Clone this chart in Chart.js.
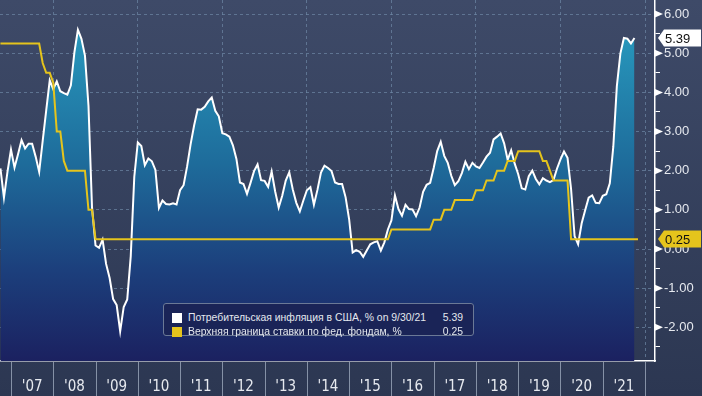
<!DOCTYPE html>
<html>
<head>
<meta charset="utf-8">
<script src="https://cdn.jsdelivr.net/npm/chart.js@4.4.0/dist/chart.umd.min.js"></script>
<style>
html,body{margin:0;padding:0;}
body{width:702px;height:396px;overflow:hidden;position:relative;background:linear-gradient(#3e4a68,#2c3752);font-family:"Liberation Sans",Arial,sans-serif;}
#chart{position:absolute;left:0;top:0;}
#legend{position:absolute;left:163px;top:303px;width:311px;height:33px;box-sizing:border-box;background:#1a2457;border:1px solid #6b7996;border-radius:3px;font-size:10.4px;color:#e4e8ee;}
.row{position:absolute;left:8px;right:10px;height:14px;line-height:14px;white-space:nowrap;}
.sw{position:absolute;left:0;top:2px;width:10px;height:10px;}
.lab{position:absolute;left:16px;top:0;}
.val{position:absolute;right:0;top:0;}
</style>
</head>
<body>
<canvas id="chart" width="702" height="396"></canvas>
<div id="legend"></div>
<script>
// monthly, month-end, first point = Sep 2006
const startYear = 2006;
const startMonth = 9;

// US CPI, % y/y
const cpi = [
  2.06, 1.31, 1.97, 2.54,
  2.08, 2.42, 2.78, 2.57, 2.69, 2.69, 2.36, 1.97, 2.76, 3.54, 4.31, 4.08,
  4.28, 4.03, 3.98, 3.94, 4.18, 5.02, 5.60, 5.37, 4.94, 3.66, 1.07, 0.09,
  0.03, 0.24, -0.38, -0.74, -1.28, -1.43, -2.10, -1.48, -1.29, -0.18, 1.84, 2.72,
  2.63, 2.14, 2.31, 2.24, 2.02, 1.05, 1.24, 1.15, 1.14, 1.17, 1.14, 1.50,
  1.63, 2.11, 2.68, 3.16, 3.57, 3.56, 3.63, 3.77, 3.87, 3.53, 3.39, 2.96,
  2.93, 2.87, 2.65, 2.30, 1.70, 1.66, 1.41, 1.69, 1.99, 2.16, 1.76, 1.74,
  1.59, 1.98, 1.47, 1.06, 1.36, 1.75, 1.96, 1.52, 1.18, 0.96, 1.24, 1.50,
  1.58, 1.13, 1.51, 1.95, 2.13, 2.07, 1.99, 1.70, 1.66, 1.66, 1.32, 0.76,
  -0.09, -0.03, -0.07, -0.20, -0.04, 0.12, 0.17, 0.20, -0.04, 0.17, 0.50, 0.73,
  1.37, 1.02, 0.85, 1.13, 1.02, 1.01, 0.84, 1.06, 1.46, 1.64, 1.69, 2.07,
  2.50, 2.74, 2.38, 2.20, 1.87, 1.63, 1.73, 1.94, 2.23, 2.04, 2.20, 2.11,
  2.07, 2.21, 2.36, 2.46, 2.80, 2.87, 2.95, 2.70, 2.28, 2.52, 2.18, 1.91,
  1.55, 1.52, 1.86, 2.00, 1.79, 1.65, 1.81, 1.75, 1.71, 1.76, 2.05, 2.29,
  2.49, 2.33, 1.54, 0.33, 0.12, 0.65, 0.99, 1.31, 1.37, 1.18, 1.17, 1.36,
  1.40, 1.68, 2.62, 4.16, 4.99, 5.39, 5.37, 5.25, 5.39
];

// Fed funds target, upper bound, %
const fed = [
  5.25, 5.25, 5.25, 5.25,
  5.25, 5.25, 5.25, 5.25, 5.25, 5.25, 5.25, 5.25, 4.75, 4.50, 4.50, 4.25,
  3.00, 3.00, 2.25, 2.00, 2.00, 2.00, 2.00, 2.00, 2.00, 1.00, 1.00, 0.25,
  0.25, 0.25, 0.25, 0.25, 0.25, 0.25, 0.25, 0.25, 0.25, 0.25, 0.25, 0.25,
  0.25, 0.25, 0.25, 0.25, 0.25, 0.25, 0.25, 0.25, 0.25, 0.25, 0.25, 0.25,
  0.25, 0.25, 0.25, 0.25, 0.25, 0.25, 0.25, 0.25, 0.25, 0.25, 0.25, 0.25,
  0.25, 0.25, 0.25, 0.25, 0.25, 0.25, 0.25, 0.25, 0.25, 0.25, 0.25, 0.25,
  0.25, 0.25, 0.25, 0.25, 0.25, 0.25, 0.25, 0.25, 0.25, 0.25, 0.25, 0.25,
  0.25, 0.25, 0.25, 0.25, 0.25, 0.25, 0.25, 0.25, 0.25, 0.25, 0.25, 0.25,
  0.25, 0.25, 0.25, 0.25, 0.25, 0.25, 0.25, 0.25, 0.25, 0.25, 0.25, 0.50,
  0.50, 0.50, 0.50, 0.50, 0.50, 0.50, 0.50, 0.50, 0.50, 0.50, 0.50, 0.75,
  0.75, 0.75, 1.00, 1.00, 1.00, 1.25, 1.25, 1.25, 1.25, 1.25, 1.25, 1.50,
  1.50, 1.50, 1.75, 1.75, 1.75, 2.00, 2.00, 2.00, 2.25, 2.25, 2.25, 2.50,
  2.50, 2.50, 2.50, 2.50, 2.50, 2.50, 2.25, 2.25, 2.00, 1.75, 1.75, 1.75,
  1.75, 1.75, 0.25, 0.25, 0.25, 0.25, 0.25, 0.25, 0.25, 0.25, 0.25, 0.25,
  0.25, 0.25, 0.25, 0.25, 0.25, 0.25, 0.25, 0.25, 0.25, 0.25
];

const yearLabels = ["'07","'08","'09","'10","'11","'12","'13","'14","'15","'16","'17","'18","'19","'20","'21"];
const firstLabelYear = 2007;
const yTicks = [-2.5,-2,-1.5,-1,-0.5,0,0.5,1,1.5,2,2.5,3,3.5,4,4.5,5,5.5,6];
const xGridYears = [2008,2010,2012,2014,2016,2018,2020,2022];
const yearEdges = [2007,2008,2009,2010,2011,2012,2013,2014,2015,2016,2017,2018,2019,2020,2021,2022];

const cpiName = 'Потребительская инфляция в США, % on 9/30/21';
const fedName = 'Верхняя граница ставки по фед. фондам, %';
const cpiColor = '#ffffff';
const fedColor = '#e5c41c';
const gridColor = 'rgba(110,135,165,0.7)';

const toPoints = (arr) => arr.map((v, i) => ({x: startYear + (startMonth + i) / 12, y: v}));

const lastCpi = cpi[cpi.length - 1];
const lastFed = fed[fed.length - 1];

document.getElementById('legend').innerHTML =
  '<div class="row" style="top:7px"><div class="sw" style="background:' + cpiColor + '"></div><span class="lab">' + cpiName + '</span><span class="val">' + lastCpi.toFixed(2) + '</span></div>' +
  '<div class="row" style="top:21px"><div class="sw" style="background:' + fedColor + '"></div><span class="lab">' + fedName + '</span><span class="val">' + lastFed.toFixed(2) + '</span></div>';

const fillGradient = (c) => {
  const a = c.chart.chartArea;
  if (!a) return 'rgba(0,0,0,0)';
  const g = c.chart.ctx.createLinearGradient(0, a.top, 0, a.bottom);
  g.addColorStop(0, '#2aa2c4');
  g.addColorStop(0.45, '#1e6c9b');
  g.addColorStop(0.75, '#1c3f7c');
  g.addColorStop(1, '#1b2160');
  return g;
};

const isInt = (v) => Math.abs(v - Math.round(v)) < 1e-9;

const noPad = (s) => { s.paddingTop = 0; s.paddingBottom = 0; s.paddingLeft = 0; s.paddingRight = 0; };

const deco = {
  id: 'deco',
  afterDraw(chart) {
    const {ctx, chartArea, scales} = chart;
    const xs = scales.x, ys = scales.y;
    ctx.save();
    // year separators under the plot
    ctx.strokeStyle = '#8591a6';
    ctx.lineWidth = 1;
    yearEdges.forEach(v => {
      const px = Math.round(xs.getPixelForValue(v)) + 0.5;
      ctx.beginPath();
      ctx.moveTo(px, chartArea.bottom + 1);
      ctx.lineTo(px, chart.height);
      ctx.stroke();
    });
    // arrow marks on major y ticks
    ctx.fillStyle = '#ffffff';
    yTicks.filter(isInt).forEach(v => {
      const py = ys.getPixelForValue(v);
      ctx.beginPath();
      ctx.moveTo(chartArea.right, py - 3.5);
      ctx.lineTo(chartArea.right + 8, py);
      ctx.lineTo(chartArea.right, py + 3.5);
      ctx.closePath();
      ctx.fill();
    });
    // last value tags
    const tag = (val, bg) => {
      const py = Math.round(ys.getPixelForValue(val));
      const l = chartArea.right + 3, b = chartArea.right + 9, r = chart.width - 1, h = 8.5;
      ctx.beginPath();
      ctx.moveTo(l, py);
      ctx.lineTo(b, py - h);
      ctx.lineTo(r, py - h);
      ctx.lineTo(r, py + h);
      ctx.lineTo(b, py + h);
      ctx.closePath();
      ctx.fillStyle = bg;
      ctx.fill();
      ctx.fillStyle = '#111111';
      ctx.font = '13px "Liberation Sans", Arial, sans-serif';
      ctx.textBaseline = 'middle';
      ctx.textAlign = 'left';
      ctx.fillText(val.toFixed(2), b + 1, py + 1);
    };
    tag(lastCpi, cpiColor);
    tag(lastFed, fedColor);
    ctx.restore();
  }
};

new Chart(document.getElementById('chart').getContext('2d'), {
  type: 'line',
  data: {
    datasets: [
      {
        label: cpiName,
        data: toPoints(cpi),
        borderColor: cpiColor,
        borderWidth: 2,
        pointRadius: 0,
        tension: 0,
        fill: 'start',
        backgroundColor: fillGradient,
        order: 2
      },
      {
        label: fedName,
        data: toPoints(fed),
        borderColor: fedColor,
        borderWidth: 2,
        pointRadius: 0,
        tension: 0,
        fill: false,
        order: 1
      }
    ]
  },
  options: {
    responsive: false,
    animation: false,
    devicePixelRatio: 1,
    layout: {padding: 0},
    plugins: {legend: {display: false}, tooltip: {enabled: false}},
    scales: {
      x: {
        type: 'linear',
        min: 2006.74,
        max: 2022.236,
        afterBuildTicks: (s) => {
          const t = yearLabels.map((l, i) => ({value: firstLabelYear + i + 0.5}));
          xGridYears.forEach(v => t.push({value: v}));
          t.sort((a, b) => a.value - b.value);
          s.ticks = t;
        },
        afterFit: (s) => { s.height = 35; noPad(s); },
        ticks: {
          autoSkip: false,
          maxRotation: 0,
          padding: 17,
          color: '#e6e9ef',
          font: {family: '"DejaVu Sans Condensed", "Liberation Sans", sans-serif', size: 15},
          callback: (v) => isInt(v) ? '' : yearLabels[Math.floor(v) - firstLabelYear]
        },
        grid: {
          drawTicks: false,
          lineWidth: 1,
          color: (c) => (c.tick && isInt(c.tick.value)) ? gridColor : 'rgba(0,0,0,0)'
        },
        border: {display: true, color: '#ffffff', width: 1.5, dash: [3, 3]}
      },
      y: {
        position: 'right',
        min: -2.86,
        max: 6.36,
        afterBuildTicks: (s) => { s.ticks = yTicks.map(v => ({value: v})); },
        afterFit: (s) => { s.width = 47; noPad(s); },
        ticks: {
          padding: 4,
          color: '#e6e9ef',
          font: {family: '"Liberation Sans", Arial, sans-serif', size: 13},
          callback: (v) => isInt(v) ? v.toFixed(2) : ''
        },
        grid: {
          drawTicks: true,
          tickLength: 5,
          tickColor: '#ffffff',
          lineWidth: 1,
          color: (c) => (c.tick && isInt(c.tick.value)) ? gridColor : 'rgba(0,0,0,0)'
        },
        border: {display: true, color: '#ffffff', width: 1.5, dash: [3, 3]}
      }
    }
  },
  plugins: [deco]
});
</script>
</body>
</html>
